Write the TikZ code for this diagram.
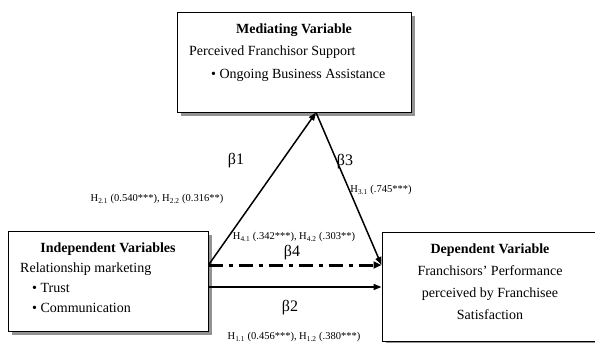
\documentclass[tikz,border=0pt]{standalone}
\usepackage{fontspec}
\setmainfont{Liberation Serif}
\usetikzlibrary{arrows.meta,shadows}
\begin{document}
\begin{tikzpicture}[x=1pt, y=-1pt,
    box/.style={draw, line width=1pt, fill=white, inner sep=0pt,
      drop shadow={shadow xshift=3.5pt, shadow yshift=-3.5pt, fill=gray!85, opacity=1}},
    txt/.style={font=\fontsize{14}{16}\selectfont, inner sep=0pt},
    hyp/.style={font=\fontsize{10.5}{12}\selectfont, inner sep=0pt},
    beta/.style={font=\fontsize{16}{18}\selectfont, inner sep=0pt},
    path/.style={line width=1.5pt, -{Triangle[length=8pt, width=6pt]}}]
    \useasboundingbox (0,0) rectangle (595,343);
    % Boxes
    \node[box, minimum width=234pt, minimum height=100pt] (med) at (294,62) {};
    \node[box, minimum width=200pt, minimum height=100pt] (ind) at (108,281) {};
    \node[box, minimum width=217pt, minimum height=109pt] (dep) at (490.5,286.5) {};
    % Mediating variable
    \node[txt, anchor=base] (med1) at (294,33) {\textbf{Mediating Variable}};
    \node[txt, anchor=base west] (med2) at (189,55) {Perceived Franchisor Support};
    \node[txt, anchor=base west] (med3) at (211,78) {\textbullet\ Ongoing Business Assistance};
    % Independent variables
    \node[txt, anchor=base] (ind1) at (108,252) {\textbf{Independent Variables}};
    \node[txt, anchor=base west] (ind2) at (20,272) {Relationship marketing};
    \node[txt, anchor=base west] (ind3) at (32,292) {\textbullet\ Trust};
    \node[txt, anchor=base west] (ind4) at (32,312) {\textbullet\ Communication};
    % Dependent variable
    \node[txt, anchor=base] (dep1) at (490,253) {\textbf{Dependent Variable}};
    \node[txt, anchor=base] (dep2) at (490,275) {Franchisors’ Performance};
    \node[txt, anchor=base] (dep3) at (490,297) {perceived by Franchisee};
    \node[txt, anchor=base] (dep4) at (490,319) {Satisfaction};
    % Path ends
    \coordinate (apex) at ([xshift=22pt]med.south);
    \coordinate (i1) at ([yshift=16pt]ind.east);
    \coordinate (i2) at ([yshift=-6pt]ind.east);
    \coordinate (d1) at ([yshift=21.5pt]dep.west);
    \coordinate (d2) at ([yshift=-0.5pt]dep.west);
    % Paths
    \draw[path] (i1) -- (apex);
    \draw[path] (apex) -- (d1);
    \draw[path] (i2) -- (d2);
    \draw[line width=3pt, dash pattern=on 14pt off 6pt on 4pt off 6pt,
      -{Triangle[length=8pt, width=7pt]}] (i1) -- (d1);
    % Coefficients
    \node[beta] (b1) at (236,161) {β1};
    \node[beta] (b3) at (345,162) {β3};
    \node[beta] (b4) at (292,253) {β4};
    \node[beta] (b2) at (290,308) {β2};
    \node[hyp] (h2) at (157,199) {H\textsubscript{2.1} (0.540***), H\textsubscript{2.2} (0.316**)};
    \node[hyp] (h3) at (381,190) {H\textsubscript{3.1} (.745***)};
    \node[hyp] (h4) at (294,237) {H\textsubscript{4.1} (.342***), H\textsubscript{4.2} (.303**)};
    \node[hyp] (h1) at (294,337) {H\textsubscript{1.1} (0.456***), H\textsubscript{1.2} (.380***)};
\end{tikzpicture}
\end{document}
